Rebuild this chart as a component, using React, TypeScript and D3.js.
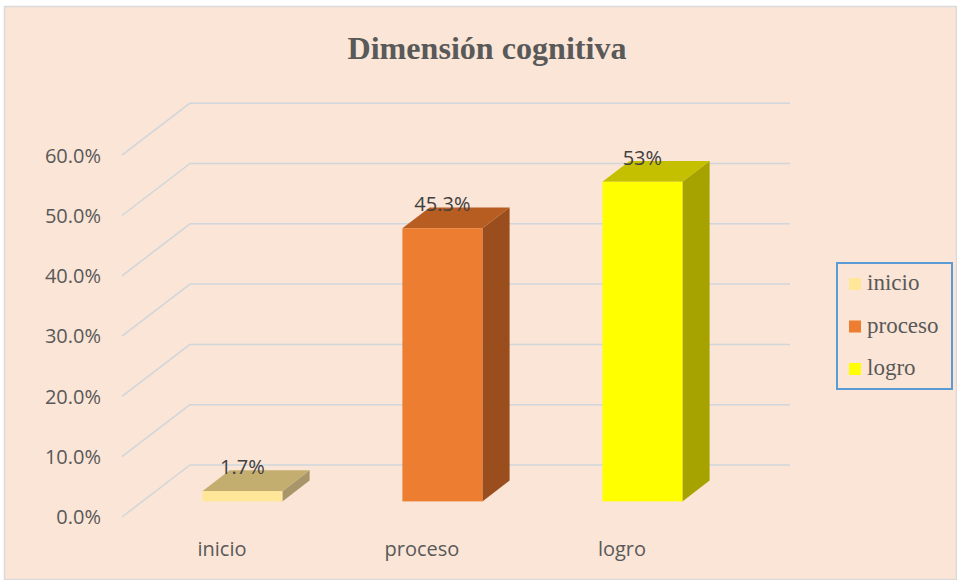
import React from "react";
import * as d3 from "d3";

// datos del grafico
const categorias = ["inicio", "proceso", "logro"];
const valores = [0.017, 0.453, 0.53];
const etiquetas = ["1.7%", "45.3%", "53%"];
const ticks = [0, 0.1, 0.2, 0.3, 0.4, 0.5, 0.6];
const coloresFrente = ["#FFE699", "#ED7D31", "#FFFF00"];
const coloresTapa = ["#C3AE70", "#B75D22", "#C4C000"];
const coloresLado = ["#A8966A", "#9A4E1D", "#A6A300"];

const W = 957;
const H = 580;
const FONT = "'Open Sans', 'Noto Sans', sans-serif";

// profundidad 3D (vector del plano frontal al fondo)
const DX = 68;
const DY = -52;
const F0 = 0.3;
const F1 = 0.7;

export default function App() {
  const x = d3.scaleBand<string>()
    .domain(categorias)
    .range([122, 722])
    .paddingInner(0.6)
    .paddingOuter(0.3);

  const y = d3.scaleLinear().domain([0, 0.6]).range([517, 155.2]);

  const gris = "#D0D6DB";

  return (
    <svg width={W} height={H} style={{ position: "absolute", left: 0, top: 0 }}>
      <rect x={0} y={0} width={W} height={H} fill="#ffffff" />
      <rect x={4.5} y={6.5} width={W - 5} height={H - 7} fill="#FBE5D6" stroke="#D9D9D9" strokeWidth={1.5} />

      <text
        x={487}
        y={59}
        textAnchor="middle"
        fontFamily="'Liberation Serif', 'Times New Roman', serif"
        fontWeight="bold"
        fontSize={32}
        fill="#595959"
        textLength={279}
        lengthAdjust="spacingAndGlyphs"
      >
        Dimensión cognitiva
      </text>

      {/* paredes: lineas de cuadricula */}
      {ticks.map((t) => (
        <g key={"g" + t}>
          <line x1={122} y1={y(t)} x2={122 + DX} y2={y(t) + DY} stroke={gris} strokeWidth={1.5} />
          <line x1={122 + DX} y1={y(t) + DY} x2={722 + DX} y2={y(t) + DY} stroke={gris} strokeWidth={1.5} />
        </g>
      ))}

      {/* eje Y */}
      {ticks.map((t) => (
        <text
          key={"t" + t}
          x={101}
          y={y(t) + 2}
          textAnchor="end"
          dominantBaseline="middle"
          fontFamily={FONT}
          fontSize={20}
          fill="#595959"
        >
          {(t * 100).toFixed(1) + "%"}
        </text>
      ))}

      {/* barras 3D */}
      {categorias.map((c, i) => {
        const x0 = (x(c) as number) + DX * F0;
        const x1 = x0 + x.bandwidth();
        const yb = y(0) + DY * F0;
        const yt = y(valores[i]) + DY * F0;
        const d = DX * (F1 - F0);
        const dd = DY * (F1 - F0);
        return (
          <g key={c}>
            <polygon
              points={`${x1},${yt} ${x1 + d},${yt + dd} ${x1 + d},${yb + dd} ${x1},${yb}`}
              fill={coloresLado[i]}
            />
            <polygon
              points={`${x0},${yt} ${x1},${yt} ${x1 + d},${yt + dd} ${x0 + d},${yt + dd}`}
              fill={coloresTapa[i]}
            />
            <rect x={x0} y={yt} width={x1 - x0} height={yb - yt} fill={coloresFrente[i]} />
            <text
              x={(x0 + x1) / 2}
              y={yt - 17}
              textAnchor="middle"
              fontFamily={FONT}
              fontSize={20}
              fill="#404040"
            >
              {etiquetas[i]}
            </text>
          </g>
        );
      })}

      {/* eje X */}
      {categorias.map((c) => (
        <text
          key={"c" + c}
          x={(x(c) as number) + x.bandwidth() / 2}
          y={556}
          textAnchor="middle"
          fontFamily={FONT}
          fontSize={20}
          fill="#595959"
        >
          {c}
        </text>
      ))}

      {/* leyenda */}
      <rect x={837} y={263} width={115} height={126} fill="none" stroke="#5B9BD5" strokeWidth={2} />
      {categorias.map((c, i) => (
        <g key={"l" + c} transform={`translate(849, ${284 + i * 42.5})`}>
          <rect x={0} y={-6} width={12} height={12} fill={coloresFrente[i]} />
          <text
            x={18}
            y={1}
            dominantBaseline="middle"
            fontFamily="'Liberation Serif', 'Times New Roman', serif"
            fontSize={23}
            fill="#595959"
          >
            {c}
          </text>
        </g>
      ))}
    </svg>
  );
}
